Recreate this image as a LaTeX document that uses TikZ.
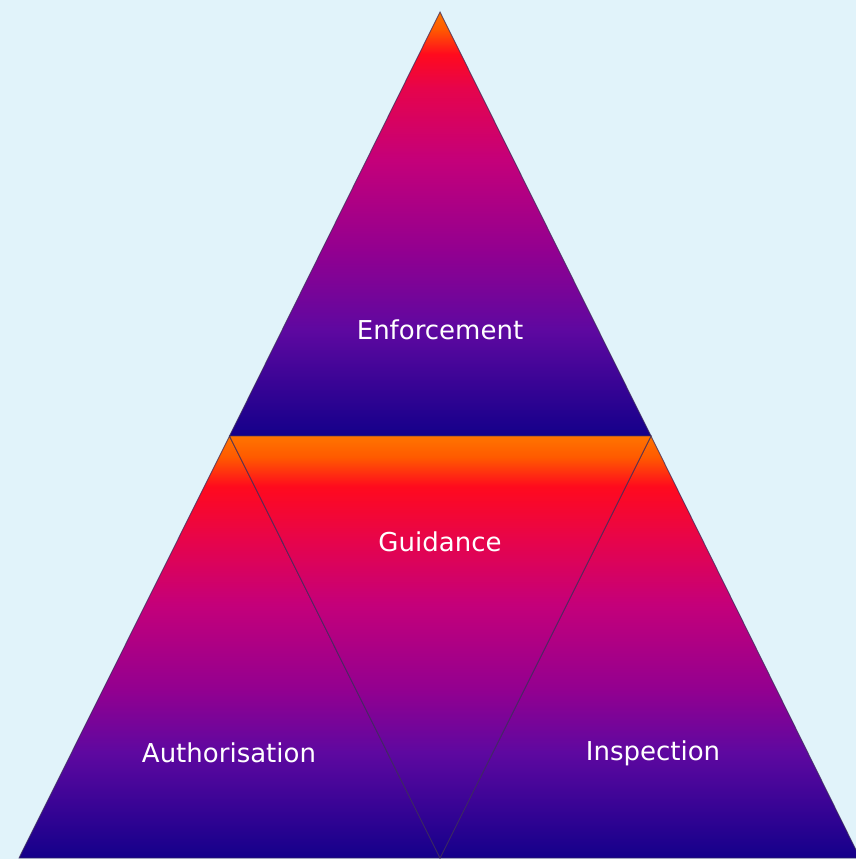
\documentclass[tikz,border=0pt]{standalone}
\usepackage{fontspec}
\setmainfont{DejaVu Sans}
\definecolor{bg}{HTML}{E1F3FA}
\definecolor{cOr}{HTML}{FF7400}
\definecolor{cOr2}{HTML}{FF5A00}
\definecolor{cRed}{HTML}{FF0A1E}
\definecolor{cCrim}{HTML}{E6044C}
\definecolor{cMag}{HTML}{C4007A}
\definecolor{cPlum}{HTML}{930090}
\definecolor{cPur}{HTML}{5E08A0}
\definecolor{cBlue}{HTML}{14008A}
\definecolor{edge}{HTML}{3C2C5A}
\pgfdeclareverticalshading{topgrad}{100bp}{color(0bp)=(cBlue); color(25bp)=(cBlue); color(37.5bp)=(cPur); color(47bp)=(cPlum); color(57.5bp)=(cMag); color(66bp)=(cCrim); color(70bp)=(cRed); color(73bp)=(cOr2); color(75bp)=(cOr); color(100bp)=(cOr)}
\pgfdeclareverticalshading{botgrad}{100bp}{color(0bp)=(cBlue); color(25bp)=(cBlue); color(37.5bp)=(cPur); color(45bp)=(cPlum); color(55bp)=(cMag); color(62.5bp)=(cCrim); color(69bp)=(cRed); color(72.5bp)=(cOr2); color(75bp)=(cOr); color(100bp)=(cOr)}
\tikzset{
  tri/.style={draw=edge, draw opacity=0.75, line width=0.9pt, line join=miter},
  lbl/.style={text=white, font=\fontsize{26}{30}\selectfont, inner sep=0pt, anchor=center}
}
\begin{document}
\begin{tikzpicture}[x=1pt,y=-1pt]
\fill[bg] (0,0) rectangle (856,859);
\useasboundingbox (0,0) rectangle (856,859);
\coordinate (apex) at (440,12);
\coordinate (ml) at (229.5,436);
\coordinate (mr) at (651,436);
\coordinate (bl) at (19,858);
\coordinate (bm) at (440,858);
\coordinate (br) at (860,858);
% top triangle
\shade[shading=topgrad, tri] (apex) -- (mr) -- (ml) -- cycle;
% bottom left
\shade[shading=botgrad, tri] (ml) -- (bm) -- (bl) -- cycle;
% bottom right
\shade[shading=botgrad, tri] (mr) -- (br) -- (bm) -- cycle;
% middle inverted
\shade[shading=botgrad, tri] (ml) -- (mr) -- (bm) -- cycle;
\node[lbl] (enf) at (440,330) {Enforcement};
\node[lbl] (gui) at (440,542) {Guidance};
\node[lbl] (aut) at (229,753) {Authorisation};
\node[lbl] (ins) at (653,753) {Inspection};
\end{tikzpicture}
\end{document}
